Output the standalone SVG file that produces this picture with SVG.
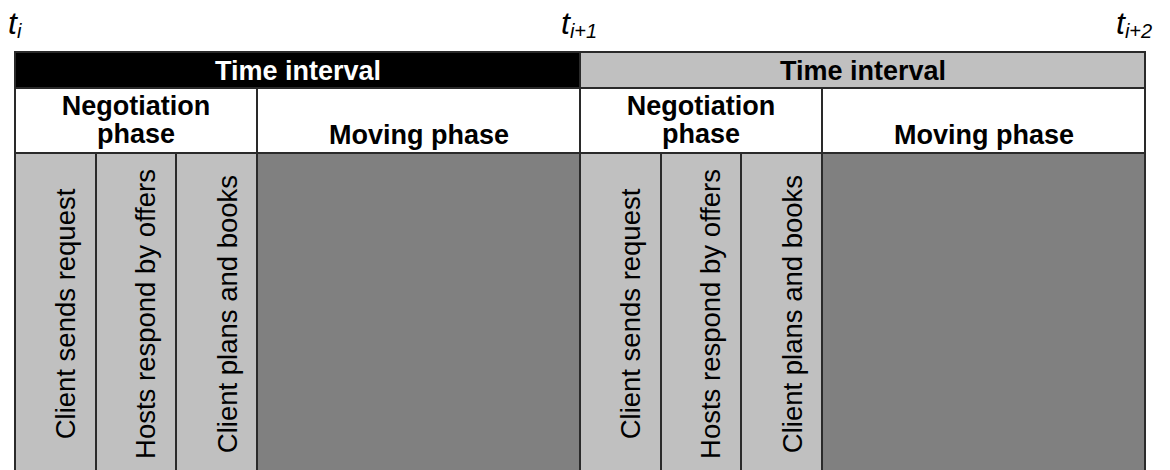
<svg xmlns="http://www.w3.org/2000/svg" width="1170" height="470" viewBox="0 0 1170 470">
  <style>
    .cell { stroke: #2a2a2a; stroke-width: 2; }
    .hdr-dark { fill: #000000; }
    .hdr-light { fill: #c0c0c0; }
    .phase { fill: #ffffff; }
    .step { fill: #c0c0c0; }
    .move { fill: #808080; }
    .bold { font-family: "Liberation Sans", Arial, sans-serif; font-weight: bold; font-size: 27px; text-anchor: middle; }
    .hdr-text-w { fill: #ffffff; }
    .hdr-text-b { fill: #000000; }
    .vert { font-family: "Liberation Sans", Arial, sans-serif; font-size: 27.5px; text-anchor: middle; fill: #000000; }
    .tick { font-family: "Liberation Sans", Arial, sans-serif; font-style: italic; fill: #000000; }
  </style>

  <!-- time stamps above the interval boundaries -->
  <g id="time-labels">
    <text class="tick" x="8" y="34" font-size="32">t<tspan font-size="20" dy="4">i</tspan></text>
    <text class="tick" x="561" y="34" font-size="32">t<tspan font-size="20" dy="4">i+1</tspan></text>
    <text class="tick" x="1116" y="34" font-size="32">t<tspan font-size="20" dy="4">i+2</tspan></text>
  </g>

  <!-- first time interval -->
  <g id="interval-1">
    <rect class="cell hdr-dark" x="15" y="52" width="565" height="36"/>
    <text class="bold hdr-text-w" x="298" y="80">Time interval</text>
  </g>
  <g id="negotiation-1">
    <rect class="cell phase" x="15" y="88" width="242" height="65"/>
    <text class="bold hdr-text-b" x="136" y="115">Negotiation</text>
    <text class="bold hdr-text-b" x="136" y="143">phase</text>
  </g>
  <g id="moving-1">
    <rect class="cell phase" x="257" y="88" width="323" height="65"/>
    <text class="bold hdr-text-b" x="419" y="144">Moving phase</text>
  </g>
  <g id="request-1">
    <rect class="cell step" x="15" y="153" width="81" height="320"/>
    <text class="vert" transform="translate(75 314) rotate(-90)">Client sends request</text>
  </g>
  <g id="offers-1">
    <rect class="cell step" x="96" y="153" width="80" height="320"/>
    <text class="vert" transform="translate(155 314) rotate(-90)">Hosts respond by offers</text>
  </g>
  <g id="booking-1">
    <rect class="cell step" x="176" y="153" width="81" height="320"/>
    <text class="vert" transform="translate(237 314) rotate(-90)">Client plans and books</text>
  </g>
  <g id="move-1">
    <rect class="cell move" x="257" y="153" width="323" height="320"/>
  </g>

  <!-- second time interval -->
  <g id="interval-2">
    <rect class="cell hdr-light" x="580" y="52" width="565" height="36"/>
    <text class="bold hdr-text-b" x="863" y="80">Time interval</text>
  </g>
  <g id="negotiation-2">
    <rect class="cell phase" x="580" y="88" width="242" height="65"/>
    <text class="bold hdr-text-b" x="701" y="115">Negotiation</text>
    <text class="bold hdr-text-b" x="701" y="143">phase</text>
  </g>
  <g id="moving-2">
    <rect class="cell phase" x="822" y="88" width="323" height="65"/>
    <text class="bold hdr-text-b" x="984" y="144">Moving phase</text>
  </g>
  <g id="request-2">
    <rect class="cell step" x="580" y="153" width="81" height="320"/>
    <text class="vert" transform="translate(640 314) rotate(-90)">Client sends request</text>
  </g>
  <g id="offers-2">
    <rect class="cell step" x="661" y="153" width="80" height="320"/>
    <text class="vert" transform="translate(720 314) rotate(-90)">Hosts respond by offers</text>
  </g>
  <g id="booking-2">
    <rect class="cell step" x="741" y="153" width="81" height="320"/>
    <text class="vert" transform="translate(802 314) rotate(-90)">Client plans and books</text>
  </g>
  <g id="move-2">
    <rect class="cell move" x="822" y="153" width="323" height="320"/>
  </g>
</svg>
